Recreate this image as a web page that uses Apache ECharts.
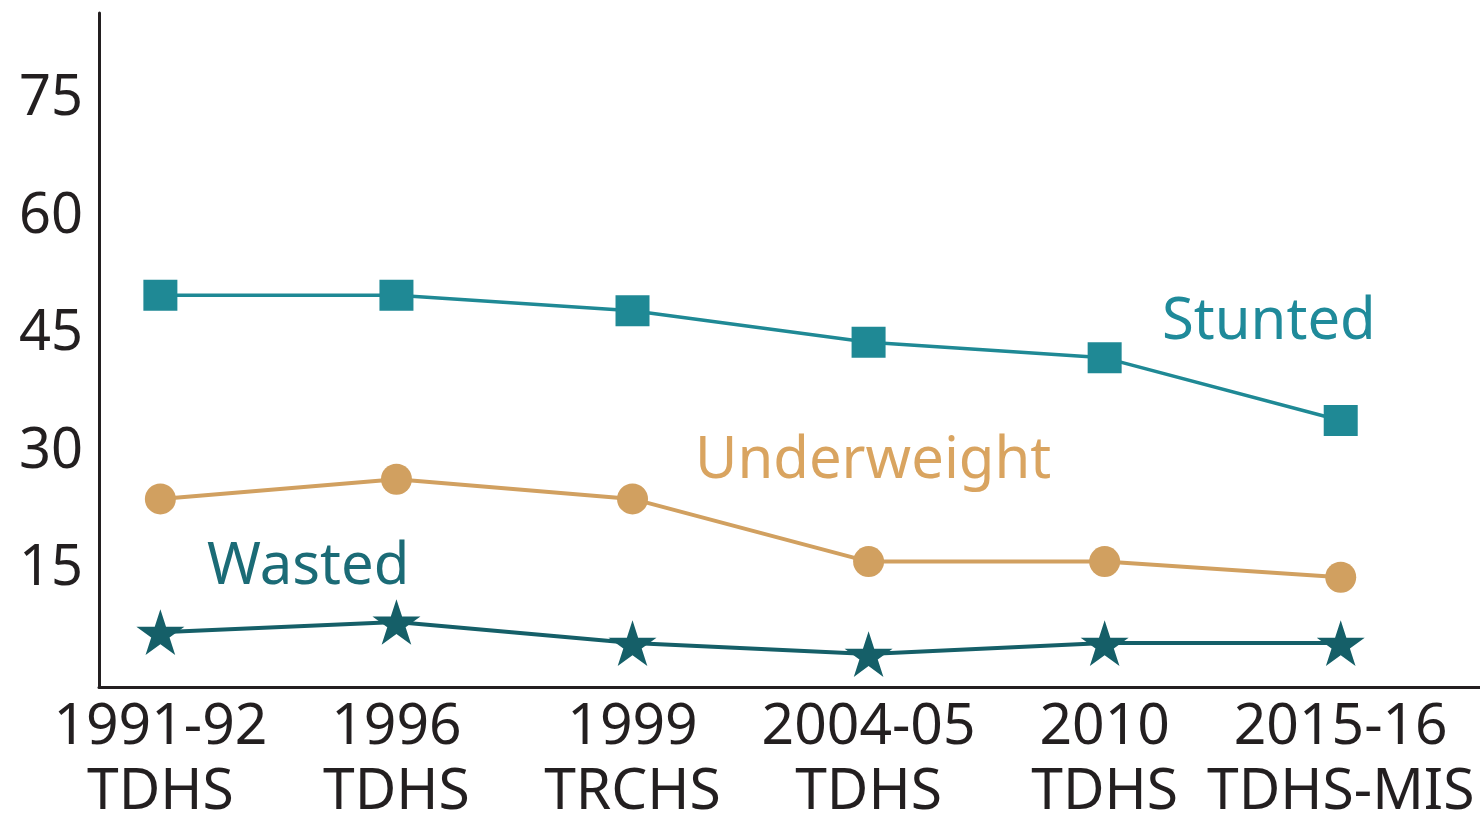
<!DOCTYPE html>
<html>
<head>
<meta charset="utf-8">
<script src="https://cdn.jsdelivr.net/npm/echarts@6/dist/echarts.min.js"></script>
<style>
  html, body { margin: 0; padding: 0; background: #fff; }
  #chart { width: 1480px; height: 815px; }
</style>
</head>
<body>
<div id="chart"></div>
<script>
// survey rounds
const surveys = ['1991-92\nTDHS', '1996\nTDHS', '1999\nTRCHS', '2004-05\nTDHS', '2010\nTDHS', '2015-16\nTDHS-MIS'];
// percentages
const stunted = [50, 50, 48, 44, 42, 34];
const underweight = [24, 26.5, 24, 16, 16, 14];
const wasted = [7, 8.3, 5.6, 4.2, 5.6, 5.6];
const yTicks = [15, 30, 45, 60, 75];

const stuntedColor = '#1f8995';
const underColor = '#d1a060';
const wastedColor = '#155f68';
const inkColor = '#231f20';
const font = '"Noto Sans", "Open Sans", sans-serif';

const starPath = 'path://M50,0 L61.2,34.5 L97.6,34.5 L68.2,55.9 L79.4,90.5 L50,69.1 L20.6,90.5 L31.8,55.9 L2.4,34.5 L38.8,34.5 Z';

const pairs = arr => arr.map((v, i) => [i, v]);

const chart = echarts.init(document.getElementById('chart'));

chart.setOption({
    animation: false,
    grid: { left: 99, right: 0, top: 13, bottom: 128, outerBoundsMode: 'none', containLabel: false },
    xAxis: {
        type: 'value',
        min: -0.26,
        max: 5.59,
        splitLine: { show: false },
        axisTick: { show: false },
        axisLine: { show: true, onZero: false, lineStyle: { color: inkColor, width: 3 } },
        axisLabel: {
            customValues: [0, 1, 2, 3, 4, 5],
            formatter: v => surveys[Math.round(v)],
            color: inkColor,
            fontFamily: font,
            fontSize: 57,
            lineHeight: 65,
            margin: 8,
            showMinLabel: true,
            showMaxLabel: true
        }
    },
    yAxis: {
        type: 'value',
        min: 0,
        max: 86,
        splitLine: { show: false },
        axisTick: { show: false },
        axisLine: { show: true, onZero: false, lineStyle: { color: inkColor, width: 3 } },
        axisLabel: {
            customValues: yTicks,
            color: inkColor,
            fontFamily: font,
            fontSize: 56,
            margin: 16
        }
    },
    series: [
        {
            name: 'Stunted',
            type: 'line',
            data: pairs(stunted),
            symbol: 'rect',
            symbolSize: [34, 31],
            lineStyle: { color: stuntedColor, width: 3.5 },
            itemStyle: { color: stuntedColor }
        },
        {
            name: 'Underweight',
            type: 'line',
            data: pairs(underweight),
            symbol: 'circle',
            symbolSize: 31,
            lineStyle: { color: underColor, width: 4 },
            itemStyle: { color: underColor }
        },
        {
            name: 'Wasted',
            type: 'line',
            data: pairs(wasted),
            symbol: starPath,
            symbolSize: 48,
            symbolKeepAspect: true,
            lineStyle: { color: wastedColor, width: 4 },
            itemStyle: { color: wastedColor }
        }
    ],
    graphic: [
        {
            type: 'text', left: 1162, top: 293,
            style: { text: 'Stunted', fill: '#1f8a9a', font: '58px ' + font }
        },
        {
            type: 'text', left: 695, top: 432,
            style: { text: 'Underweight', fill: '#d9a460', font: '58px ' + font }
        },
        {
            type: 'text', left: 207, top: 538,
            style: { text: 'Wasted', fill: '#1b6b76', font: '58px ' + font }
        }
    ]
});
</script>
</body>
</html>
